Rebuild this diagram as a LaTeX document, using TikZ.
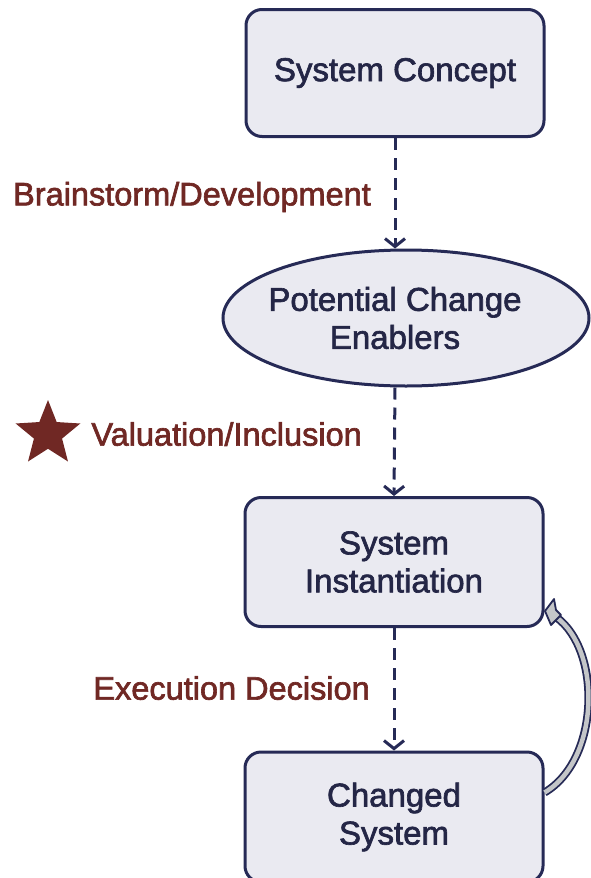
\documentclass[tikz,border=0pt]{standalone}
\usepackage{fontspec}
\setmainfont{Liberation Sans}
\newfontfamily\heavysans{Liberation Sans}[FakeBold=2]
\usetikzlibrary{arrows.meta,shapes.geometric}
\definecolor{navy}{RGB}{38,42,86}
\definecolor{inktext}{RGB}{36,38,70}
\definecolor{boxfill}{RGB}{234,234,241}
\definecolor{labelred}{RGB}{112,40,36}
\definecolor{loopfill}{RGB}{196,198,200}
\begin{document}
\begin{tikzpicture}[x=1pt,y=-1pt,
  boxtext/.style={align=center,text=inktext,
    font=\heavysans\fontsize{33}{38}\selectfont},
  stepbox/.style={boxtext,draw=navy,fill=boxfill,line width=3pt,rounded corners=16pt,
    minimum width=298pt,minimum height=127pt},
  enabler/.style={ellipse,draw=navy,fill=boxfill,line width=3pt,inner sep=0pt,
    minimum width=366pt,minimum height=136pt},
  flow/.style={draw=navy,line width=3pt,dash pattern=on 12pt off 8pt,
    -{Straight Barb[length=8pt,width=20pt,line width=3pt]}},
  steplabel/.style={text=labelred,anchor=east,inner sep=0pt,
    font=\heavysans\fontsize{32.5}{38}\selectfont}]
\useasboundingbox (0,0) rectangle (590,878);

\node[stepbox] (concept) at (395,73) {System Concept};
\node[enabler,label={[boxtext,xshift=-11pt]center:Potential Change\\Enablers}]
  (enablers) at (406,318) {};
\node[stepbox,minimum height=129pt] (inst) at (394,562) {System\\Instantiation};
\node[stepbox,minimum height=130pt] (changed) at (394,817) {Changed\\System};

\draw[flow] (concept.south) -- (enablers.north -| concept.south);
\draw[flow] (enablers.south -| concept.south) -- (inst.north);
\draw[flow] (inst.south) -- (changed.north);

\node[steplabel] (lbl1) at (371,197) {Brainstorm/Development};
\node[steplabel] (lbl2) at (362,434) {Valuation/Inclusion};
\node[steplabel] (lbl3) at (370,688) {Execution Decision};
\node[star,star points=5,star point ratio=2.3,fill=labelred,inner sep=0pt,
  minimum size=68pt] (mark) at (48,434) {};

% feedback loop from the changed system back to the instantiation
\coordinate (loopstart) at ([yshift=-42pt]changed.north east);
\coordinate (loopend) at (556,617);
\draw[navy,line width=1.8pt,double=loopfill,double distance=4.5pt]
  (loopstart) .. controls (600,760) and (602,650) .. (loopend);
\filldraw[draw=navy,fill=loopfill,line width=1.8pt,line join=round]
  (545,611) -- (554,599) -- (556,610) -- (561,615) -- (551,625) -- cycle;
\end{tikzpicture}
\end{document}
